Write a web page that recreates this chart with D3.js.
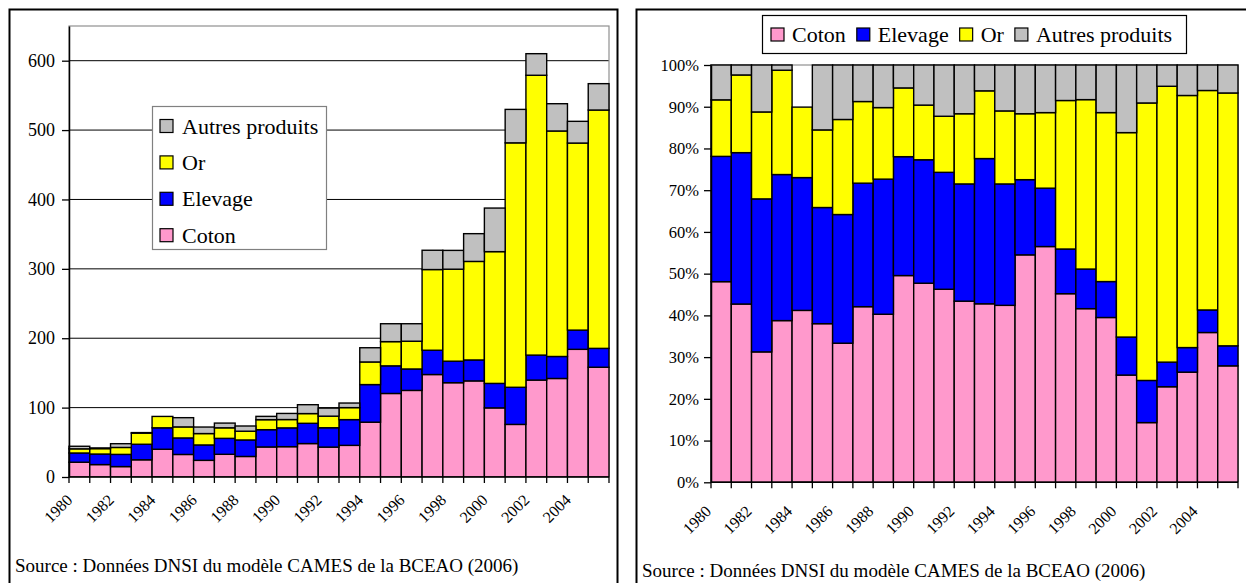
<!DOCTYPE html>
<html>
<head>
<meta charset="utf-8">
<script src="https://cdn.jsdelivr.net/npm/d3@7"></script>
<style>
  body { margin: 0; background: #fff; }
  svg { display: block; }
</style>
</head>
<body>
<svg id="chart" width="1246" height="583"></svg>
<script>
// Exports by product, 1980-2005 (milliards FCFA)
const years = [1980, 1981, 1982, 1983, 1984, 1985, 1986, 1987, 1988, 1989, 1990, 1991, 1992,
               1993, 1994, 1995, 1996, 1997, 1998, 1999, 2000, 2001, 2002, 2003, 2004, 2005];
const coton   = [21.3, 17.9, 15.0, 24.8, 40.0, 32.5, 24.0, 32.7, 29.6, 43.3, 43.7, 48.2, 43.1,
                 45.6, 79.0, 120.4, 124.8, 147.7, 135.9, 138.5, 99.6, 75.8, 139.7, 142.0, 184.0, 158.2];
const elevage = [13.3, 15.2, 17.6, 22.4, 30.9, 23.8, 22.2, 23.0, 23.8, 24.9, 27.1, 29.2, 27.9,
                 37.1, 54.2, 39.8, 30.9, 35.0, 31.0, 30.2, 35.3, 53.5, 36.0, 31.7, 27.7, 27.2];
const orVals  = [6.0, 7.8, 10.0, 16.0, 16.4, 15.9, 16.4, 15.2, 12.6, 14.4, 12.0, 14.0, 16.7,
                 17.3, 32.6, 34.9, 40.0, 116.3, 132.6, 142.0, 189.9, 352.3, 403.3, 325.0, 269.6, 343.5];
const autres  = [3.7, 1.0, 5.4, 0.8, -9.8, 13.3, 9.4, 6.8, 7.5, 4.8, 8.8, 12.8, 11.6,
                 6.6, 20.5, 25.8, 25.2, 27.8, 27.1, 40.0, 62.8, 48.2, 31.1, 39.3, 31.3, 38.0];

const seriesNames = ["Coton", "Elevage", "Or", "Autres produits"];
const seriesColors = ["#FF99CC", "#0000FF", "#FFFF00", "#C0C0C0"];
const labelYears = [1980, 1982, 1984, 1986, 1988, 1990, 1992, 1994, 1996, 1998, 2000, 2002, 2004];
const valueTicks = [0, 100, 200, 300, 400, 500, 600];
const shareTicks = [0, 0.1, 0.2, 0.3, 0.4, 0.5, 0.6, 0.7, 0.8, 0.9, 1.0];
const sourceText = "Source : Données DNSI du modèle CAMES de la BCEAO (2006)";

const FONT = "Liberation Serif";

const rows = years.map((yr, i) => ({
  year: yr,
  "Coton": coton[i],
  "Elevage": elevage[i],
  "Or": orVals[i],
  "Autres produits": autres[i]
}));

// 100 % view: each value divided by the sum of absolute values of its year
const shareRows = rows.map(r => {
  const tot = d3.sum(seriesNames, k => Math.abs(r[k]));
  const o = { year: r.year };
  seriesNames.forEach(k => { o[k] = r[k] / tot; });
  return o;
});

const stacker = d3.stack().keys(seriesNames).offset(d3.stackOffsetDiverging);
const color = d3.scaleOrdinal().domain(seriesNames).range(seriesColors);

const svg = d3.select("#chart");

function label(sel, size) {
  return sel.style("font-family", FONT).attr("font-size", size).style("fill", "#000");
}

function drawPanel(p) {
  const g = svg.append("g");

  // frame
  g.append("rect")
    .attr("x", p.frame[0]).attr("y", p.frame[1])
    .attr("width", p.frame[2]).attr("height", p.frame[3])
    .attr("fill", "none").attr("stroke", "#000").attr("stroke-width", 2);

  const x = d3.scaleBand().domain(years).range([p.x0, p.x1]).padding(0);
  const y = d3.scaleLinear().domain(p.domain).range([p.yBottom, p.yTop]);

  const clipId = "clip-" + p.id;
  g.append("clipPath").attr("id", clipId)
    .append("rect")
    .attr("x", p.x0 - 2).attr("y", p.yTop - 2)
    .attr("width", p.x1 - p.x0 + 4).attr("height", p.yBottom - p.yTop + 2);

  // horizontal gridlines
  if (p.grid) {
    g.append("g").selectAll("line")
      .data(p.ticks.filter(t => t > 0))
      .join("line")
      .attr("x1", p.x0).attr("x2", p.x1)
      .attr("y1", d => y(d)).attr("y2", d => y(d))
      .attr("stroke", "#000").attr("stroke-width", 1);
  }

  // plot-area outline
  g.append("rect")
    .attr("x", p.x0).attr("y", p.yTop)
    .attr("width", p.x1 - p.x0).attr("height", p.yBottom - p.yTop)
    .attr("fill", "none").attr("stroke", "#909090").attr("stroke-width", 1.2);

  // stacked bars
  const layers = stacker(p.data);
  g.append("g").attr("clip-path", `url(#${clipId})`)
    .selectAll("g")
    .data(layers)
    .join("g")
    .attr("fill", d => color(d.key))
    .selectAll("rect")
    .data(d => d)
    .join("rect")
    .attr("x", d => x(d.data.year))
    .attr("width", x.bandwidth())
    .attr("y", d => y(Math.max(d[0], d[1])))
    .attr("height", d => Math.abs(y(d[0]) - y(d[1])))
    .attr("stroke", "#000").attr("stroke-width", 1.4);

  // value axis
  const yAxis = d3.axisLeft(y)
    .tickValues(p.ticks)
    .tickFormat(p.tickFormat)
    .tickSize(7).tickSizeOuter(0)
    .tickPadding(p.tickPad);
  const ya = g.append("g").attr("transform", `translate(${p.x0},0)`).call(yAxis);
  ya.attr("font-family", null).attr("font-size", null);
  ya.select(".domain").attr("stroke", "#000").attr("stroke-width", 1.5);
  ya.selectAll(".tick line").attr("stroke", "#000").attr("stroke-width", 1.3);
  label(ya.selectAll(".tick text"), p.yFont);

  // category axis
  g.append("line")
    .attr("x1", p.x0).attr("x2", p.x1)
    .attr("y1", p.yBottom).attr("y2", p.yBottom)
    .attr("stroke", "#000").attr("stroke-width", 1.5);
  const edges = years.map(yr => x(yr)).concat([p.x1]);
  g.append("g").selectAll("line")
    .data(edges)
    .join("line")
    .attr("x1", d => d).attr("x2", d => d)
    .attr("y1", p.yBottom).attr("y2", p.yBottom + 6)
    .attr("stroke", "#000").attr("stroke-width", 1.3);

  label(g.append("g").selectAll("text")
    .data(labelYears)
    .join("text")
    .attr("transform", d =>
      `translate(${x(d) + x.bandwidth() / 2 + p.labelDx},${p.yBottom + p.labelDy}) rotate(-45)`)
    .attr("text-anchor", "end")
    .text(d => d), p.xFont);

  // legend
  const lg = g.append("g");
  lg.append("rect")
    .attr("x", p.legend.box[0]).attr("y", p.legend.box[1])
    .attr("width", p.legend.box[2]).attr("height", p.legend.box[3])
    .attr("fill", "#fff").attr("stroke", p.legend.stroke).attr("stroke-width", 1.2);

  if (p.legend.vertical) {
    const items = seriesNames.slice().reverse();
    items.forEach((name, i) => {
      const base = p.legend.y0 + i * p.legend.step;
      lg.append("rect")
        .attr("x", p.legend.x0).attr("y", base - 14)
        .attr("width", 13).attr("height", 13)
        .attr("fill", color(name)).attr("stroke", "#000").attr("stroke-width", 1.2);
      label(lg.append("text")
        .attr("x", p.legend.x0 + 22).attr("y", base)
        .text(name), p.legend.font);
    });
  } else {
    let cx = p.legend.x0;
    seriesNames.forEach(name => {
      lg.append("rect")
        .attr("x", cx).attr("y", p.legend.y0 - 14)
        .attr("width", 13).attr("height", 13)
        .attr("fill", color(name)).attr("stroke", "#000").attr("stroke-width", 1.2);
      const t = label(lg.append("text")
        .attr("x", cx + 21).attr("y", p.legend.y0)
        .text(name), p.legend.font);
      cx += 21 + t.node().getComputedTextLength() + 11;
    });
  }

  // source note
  label(g.append("text")
    .attr("x", p.source[0]).attr("y", p.source[1])
    .text(sourceText), 19);
}

drawPanel({
  id: "values",
  frame: [9.5, 9.5, 608, 600],
  x0: 69, x1: 609, yTop: 26, yBottom: 477,
  domain: [0, 650],
  ticks: valueTicks,
  tickFormat: d3.format("d"),
  tickPad: 7,
  yFont: 18,
  xFont: 16,
  grid: true,
  data: rows,
  labelDx: -6, labelDy: 24,
  legend: { vertical: true, box: [152.5, 106.5, 174, 143], stroke: "#808080",
            x0: 160, y0: 133.5, step: 36.4, font: 22 },
  source: [15, 572]
});

drawPanel({
  id: "shares",
  frame: [636.5, 9.5, 640, 600],
  x0: 711, x1: 1238, yTop: 65, yBottom: 482.3,
  domain: [0, 1],
  ticks: shareTicks,
  tickFormat: d3.format(".0%"),
  tickPad: 5,
  yFont: 16.5,
  xFont: 16,
  grid: false,
  data: shareRows,
  labelDx: -9, labelDy: 30,
  legend: { vertical: false, box: [762.5, 15.5, 424, 38], stroke: "#000",
            x0: 771, y0: 42, font: 22 },
  source: [642, 577]
});
</script>
</body>
</html>
